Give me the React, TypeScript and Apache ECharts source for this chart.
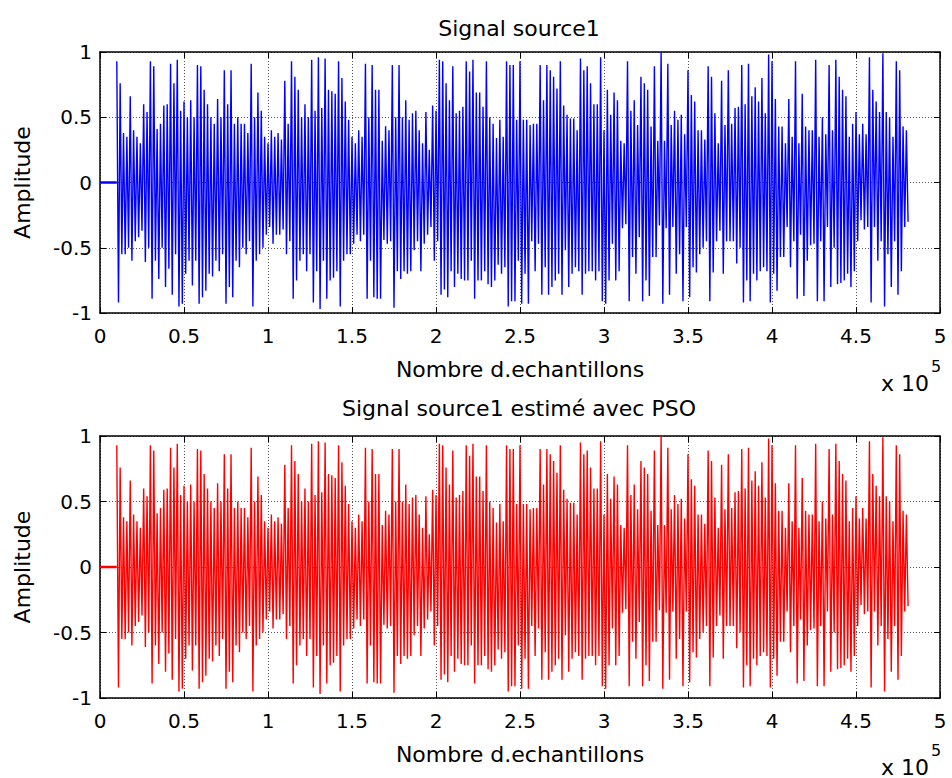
import React, { useEffect, useRef } from "react";
import * as echarts from "echarts";

// ---- data ----
// x axis ticks (samples), y axis ticks
const X_TICKS = [0, 50000, 100000, 150000, 200000, 250000, 300000, 350000, 400000, 450000, 500000];
const Y_TICKS = [-1, -0.5, 0, 0.5, 1];
// the signal is silent for the first 10000 samples
const LEAD_IN = [[0, 0], [10000, 0]];
// each bin = 4000 samples, four alternating extremes per bin
const BIN_START = 10000;
const PEAK_SPACING = 1000;
// largest positive swing in the bin
const peakTop = [
  0.93, 0.38, 0.66, 0.35, 0.6, 0.93, 0.41, 0.59, 0.91, 0.94,
  0.62, 0.63, 0.9, 0.71, 0.5, 0.64, 0.86, 0.86, 0.5, 0.45,
  0.91, 0.69, 0.35, 0.4, 0.38, 0.78, 0.93, 0.71, 0.6, 0.94,
  0.96, 0.95, 0.7, 0.93, 0.62, 0.35, 0.4, 0.91, 0.9, 0.71,
  0.43, 0.9, 0.9, 0.63, 0.53, 0.4, 0.54, 0.59, 0.94, 0.76,
  0.89, 0.55, 0.93, 0.94, 0.69, 0.93, 0.45, 0.48, 0.93, 0.9,
  0.93, 0.48, 0.45, 0.9, 0.9, 0.81, 0.93, 0.52, 0.49, 0.95,
  0.89, 0.6, 0.96, 0.71, 0.69, 0.32, 0.93, 0.63, 0.81, 0.71,
  0.89, 1.0, 0.91, 0.55, 0.52, 0.86, 0.62, 0.4, 0.89, 0.53,
  0.78, 0.86, 0.57, 0.9, 0.91, 0.73, 0.8, 0.98, 0.64, 0.43,
  0.64, 0.93, 0.68, 0.4, 0.94, 0.5, 0.9, 0.94, 0.71, 0.35,
  0.54, 0.45, 0.96, 0.62, 0.99, 0.5, 0.93, 0.43,
];
// largest negative swing in the bin
const peakBot = [
  -0.92, -0.55, -0.6, -0.42, -0.61, -0.89, -0.74, -0.8, -0.86, -0.95,
  -0.7, -0.79, -0.93, -0.83, -0.72, -0.68, -0.93, -0.88, -0.65, -0.55,
  -0.95, -0.55, -0.4, -0.47, -0.4, -0.55, -0.89, -0.6, -0.68, -0.92,
  -0.97, -0.89, -0.73, -0.95, -0.55, -0.47, -0.45, -0.89, -0.88, -0.89,
  -0.47, -0.96, -0.74, -0.7, -0.52, -0.68, -0.4, -0.6, -0.86, -0.88,
  -0.8, -0.74, -0.75, -0.89, -0.75, -0.78, -0.75, -0.7, -0.95, -0.91,
  -0.93, -0.93, -0.68, -0.86, -0.86, -0.75, -0.86, -0.8, -0.65, -0.86,
  -0.68, -0.75, -0.91, -0.75, -0.75, -0.35, -0.91, -0.7, -0.91, -0.87,
  -0.57, -0.93, -0.86, -0.7, -0.91, -0.88, -0.69, -0.5, -0.91, -0.45,
  -0.7, -0.45, -0.62, -0.92, -0.91, -0.75, -0.65, -0.92, -0.83, -0.57,
  -0.65, -0.89, -0.87, -0.48, -0.91, -0.91, -0.8, -0.78, -0.75, -0.8,
  -0.45, -0.36, -0.92, -0.6, -0.95, -0.8, -0.86, -0.34,
];
// typical (dense core) positive swing in the bin
const coreTop = [
  0.76, 0.35, 0.4, 0.3, 0.54, 0.89, 0.45, 0.6, 0.76, 0.55,
  0.5, 0.5, 0.89, 0.6, 0.45, 0.5, 0.6, 0.45, 0.45, 0.38,
  0.5, 0.55, 0.3, 0.35, 0.33, 0.45, 0.81, 0.5, 0.5, 0.55,
  0.57, 0.71, 0.68, 0.8, 0.48, 0.3, 0.35, 0.5, 0.71, 0.32,
  0.4, 0.5, 0.5, 0.48, 0.55, 0.3, 0.25, 0.55, 0.93, 0.63,
  0.53, 0.58, 0.85, 0.69, 0.58, 0.5, 0.34, 0.35, 0.9, 0.48,
  0.48, 0.44, 0.45, 0.63, 0.86, 0.72, 0.59, 0.49, 0.4, 0.86,
  0.76, 0.6, 0.4, 0.52, 0.63, 0.3, 0.55, 0.44, 0.76, 0.43,
  0.32, 0.32, 0.44, 0.48, 0.37, 0.67, 0.4, 0.33, 0.81, 0.3,
  0.44, 0.45, 0.58, 0.6, 0.66, 0.62, 0.53, 0.93, 0.43, 0.3,
  0.35, 0.3, 0.43, 0.4, 0.35, 0.37, 0.4, 0.81, 0.66, 0.45,
  0.37, 0.37, 0.71, 0.54, 0.54, 0.35, 0.86, 0.4,
];
// typical (dense core) negative swing in the bin
const coreBot = [
  -0.55, -0.5, -0.45, -0.37, -0.5, -0.6, -0.5, -0.66, -0.55, -0.93,
  -0.6, -0.6, -0.88, -0.7, -0.6, -0.55, -0.8, -0.6, -0.5, -0.45,
  -0.6, -0.5, -0.34, -0.4, -0.36, -0.45, -0.75, -0.55, -0.55, -0.68,
  -0.6, -0.75, -0.68, -0.6, -0.55, -0.4, -0.4, -0.6, -0.89, -0.44,
  -0.45, -0.68, -0.68, -0.68, -0.45, -0.47, -0.34, -0.45, -0.82, -0.68,
  -0.7, -0.75, -0.6, -0.75, -0.68, -0.8, -0.63, -0.65, -0.91, -0.6,
  -0.7, -0.45, -0.47, -0.65, -0.8, -0.7, -0.52, -0.7, -0.68, -0.7,
  -0.68, -0.68, -0.93, -0.47, -0.68, -0.32, -0.57, -0.42, -0.75, -0.57,
  -0.33, -0.35, -0.34, -0.55, -0.34, -0.65, -0.55, -0.45, -0.69, -0.37,
  -0.45, -0.45, -0.5, -0.75, -0.7, -0.68, -0.68, -0.7, -0.57, -0.34,
  -0.45, -0.4, -0.6, -0.47, -0.45, -0.34, -0.5, -0.77, -0.7, -0.68,
  -0.29, -0.34, -0.34, -0.45, -0.55, -0.45, -0.68, -0.3,
];

function buildSignal(): number[][] {
  const pts: number[][] = [];
  for (let i = 0; i < peakTop.length; i++) {
    const x0 = BIN_START + i * 4 * PEAK_SPACING;
    pts.push([x0, peakTop[i]]);
    pts.push([x0 + PEAK_SPACING, peakBot[i]]);
    pts.push([x0 + 2 * PEAK_SPACING, coreTop[i]]);
    pts.push([x0 + 3 * PEAK_SPACING, coreBot[i]]);
  }
  return pts;
}

const FONT = '"DejaVu Sans", Arial, sans-serif';

export default function App() {
  const ref = useRef<HTMLDivElement>(null);
  useEffect(() => {
    document.body.style.margin = "0";
    if (!ref.current) return;
    const chart = echarts.init(ref.current, undefined, { renderer: "svg" });
    const signal = buildSignal();
    const grids = [
      { left: 100, top: 52, width: 840, height: 261 },
      { left: 100, top: 436, width: 840, height: 262 },
    ];
    const xAxes: any[] = [];
    const yAxes: any[] = [];
    const series: any[] = [];
    const colors = ["#0000ff", "#ff0000"];
    grids.forEach((g, gi) => {
      xAxes.push({
        type: "value",
        gridIndex: gi,
        min: X_TICKS[0],
        max: X_TICKS[X_TICKS.length - 1],
        interval: X_TICKS[1] - X_TICKS[0],
        position: "bottom",
        name: "Nombre d.echantillons",
        nameLocation: "middle",
        nameGap: 45,
        nameTextStyle: { color: "#000", fontSize: 22, fontFamily: FONT },
        axisLine: { show: true, onZero: false, lineStyle: { color: "#000", width: 1.5 } },
        axisTick: { show: true, inside: true, length: 6, lineStyle: { color: "#000", width: 1 } },
        axisLabel: {
          color: "#000",
          fontSize: 20,
          fontFamily: FONT,
          margin: 13,
          formatter: (v: number) => String(v / 100000),
        },
        splitLine: { show: true, lineStyle: { color: "#555", type: [1, 2], width: 1 } },
      });
      xAxes.push({
        type: "value",
        gridIndex: gi,
        min: X_TICKS[0],
        max: X_TICKS[X_TICKS.length - 1],
        interval: X_TICKS[1] - X_TICKS[0],
        position: "top",
        axisLine: { show: true, onZero: false, lineStyle: { color: "#000", width: 1.5 } },
        axisTick: { show: true, inside: true, length: 6, lineStyle: { color: "#000", width: 1 } },
        axisLabel: { show: false },
        splitLine: { show: false },
      });
      yAxes.push({
        type: "value",
        gridIndex: gi,
        min: Y_TICKS[0],
        max: Y_TICKS[Y_TICKS.length - 1],
        interval: Y_TICKS[1] - Y_TICKS[0],
        position: "left",
        name: "Amplitude",
        nameLocation: "middle",
        nameRotate: 90,
        nameGap: 67,
        nameTextStyle: { color: "#000", fontSize: 22, fontFamily: FONT },
        axisLine: { show: true, onZero: false, lineStyle: { color: "#000", width: 1.5 } },
        axisTick: { show: true, inside: true, length: 6, lineStyle: { color: "#000", width: 1 } },
        axisLabel: { color: "#000", fontSize: 20, fontFamily: FONT, margin: 8 },
        splitLine: { show: true, lineStyle: { color: "#555", type: [1, 2], width: 1 } },
      });
      yAxes.push({
        type: "value",
        gridIndex: gi,
        min: Y_TICKS[0],
        max: Y_TICKS[Y_TICKS.length - 1],
        interval: Y_TICKS[1] - Y_TICKS[0],
        position: "right",
        axisLine: { show: true, onZero: false, lineStyle: { color: "#000", width: 1.5 } },
        axisTick: { show: true, inside: true, length: 6, lineStyle: { color: "#000", width: 1 } },
        axisLabel: { show: false },
        splitLine: { show: false },
      });
      series.push({
        type: "line",
        xAxisIndex: gi * 2,
        yAxisIndex: gi * 2,
        data: LEAD_IN,
        showSymbol: false,
        lineStyle: { color: colors[gi], width: 2.5 },
        z: 3,
      });
      series.push({
        type: "line",
        xAxisIndex: gi * 2,
        yAxisIndex: gi * 2,
        data: signal,
        showSymbol: false,
        lineStyle: { color: colors[gi], width: 1.4 },
        z: 3,
      });
    });

    const txt = (text: string, x: number, y: number, size: number, align = "center") => ({
      type: "text",
      x,
      y,
      style: {
        text,
        font: `${size}px ${FONT}`,
        fill: "#000",
        textAlign: align,
        align,
        textVerticalAlign: "middle",
        verticalAlign: "middle",
      },
    });

    chart.setOption({
      animation: false,
      backgroundColor: "#fff",
      grid: grids,
      xAxis: xAxes,
      yAxis: yAxes,
      series,
      graphic: [
        txt("Signal source1", 519, 28, 22),
        txt("Signal source1 estimé avec PSO", 519, 408, 22),
        txt("x 10", 881, 383, 22, "left"),
        txt("5", 931, 366, 16, "left"),
        txt("x 10", 881, 767, 22, "left"),
        txt("5", 931, 750, 16, "left"),
      ],
    });
    return () => chart.dispose();
  }, []);
  return <div ref={ref} style={{ width: 952, height: 778 }} />;
}
